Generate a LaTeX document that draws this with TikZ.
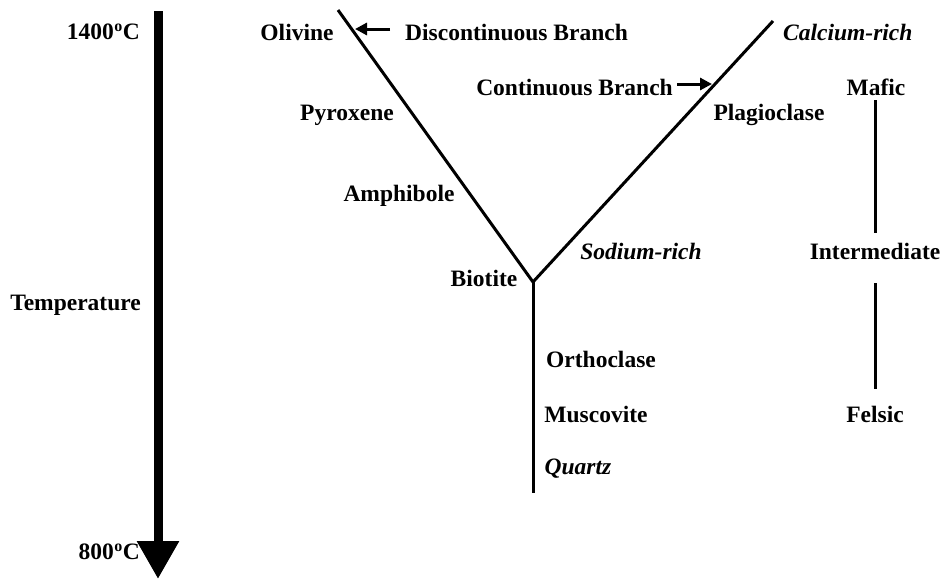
\documentclass[tikz,border=0pt]{standalone}
\usepackage{fontspec}
\setmainfont{Liberation Serif}
\usetikzlibrary{arrows.meta}
\newcommand{\degsign}{\kern0.5pt\raisebox{0.72ex}{\fontsize{16}{16}\selectfont o}\kern0.5pt}
\begin{document}
\begin{tikzpicture}[x=1pt,y=-1pt,
  lbl/.style={font=\fontsize{23.5}{26}\selectfont\bfseries, inner sep=0pt},
  ilbl/.style={font=\fontsize{23.5}{26}\selectfont\bfseries\itshape, inner sep=0pt},
  branch/.style={line width=3pt},
  pointer/.style={line width=3pt, -{Triangle[length=12pt,width=12pt]}},
  tempaxis/.style={line width=9pt, -{Triangle[length=38pt,width=40pt]}}]
\useasboundingbox (0,0) rectangle (940,579);

% temperature axis
\coordinate (ttop) at (158,11);
\coordinate (tbot) at (158,579);
\draw[tempaxis] (ttop) -- (tbot);
\node[lbl, anchor=east] (hot) at (140,32) {1400\degsign C};
\node[lbl, anchor=east] (temp) at (141,305) {Temperature};
\node[lbl, anchor=east] (cold) at (140,552) {800\degsign C};

% Bowen's reaction series
\coordinate (ltop) at (338,10);
\coordinate (rtop) at (773,21);
\coordinate (join) at (533,282);
\coordinate (vbot) at (533,493);
\draw[branch] (ltop) -- (join) -- (rtop);
\draw[branch] (join) -- (vbot);

\node[lbl] (olivine) at (297,32) {Olivine};
\node[lbl, anchor=west] (disc) at (405,32) {Discontinuous Branch};
\coordinate (discA) at (390,29);
\coordinate (discB) at (355,29);
\draw[pointer] (discA) -- (discB);

\node[lbl, anchor=east] (cont) at (673,87) {Continuous Branch};
\coordinate (contA) at (677,84);
\coordinate (contB) at (712,84);
\draw[pointer] (contA) -- (contB);

\node[ilbl, anchor=west] (ca) at (783,32) {Calcium-rich};
\node[lbl] (pyx) at (347,115) {Pyroxene};
\node[lbl] (plag) at (769,115) {Plagioclase};
\node[lbl] (amph) at (399,196) {Amphibole};
\node[ilbl] (na) at (641,251) {Sodium-rich};
\node[lbl] (bio) at (484,278) {Biotite};
\node[lbl] (orth) at (601,359) {Orthoclase};
\node[lbl] (musc) at (596,414) {Muscovite};
\node[ilbl] (qtz) at (578,469) {Quartz};

% composition scale
\node[lbl] (mafic) at (876,87) {Mafic};
\node[lbl] (inter) at (875,251) {Intermediate};
\node[lbl] (felsic) at (875,414) {Felsic};
\coordinate (m1) at (875,100);
\coordinate (m2) at (875,233);
\coordinate (f1) at (875,283);
\coordinate (f2) at (875,389);
\draw[branch] (m1) -- (m2);
\draw[branch] (f1) -- (f2);
\end{tikzpicture}
\end{document}
